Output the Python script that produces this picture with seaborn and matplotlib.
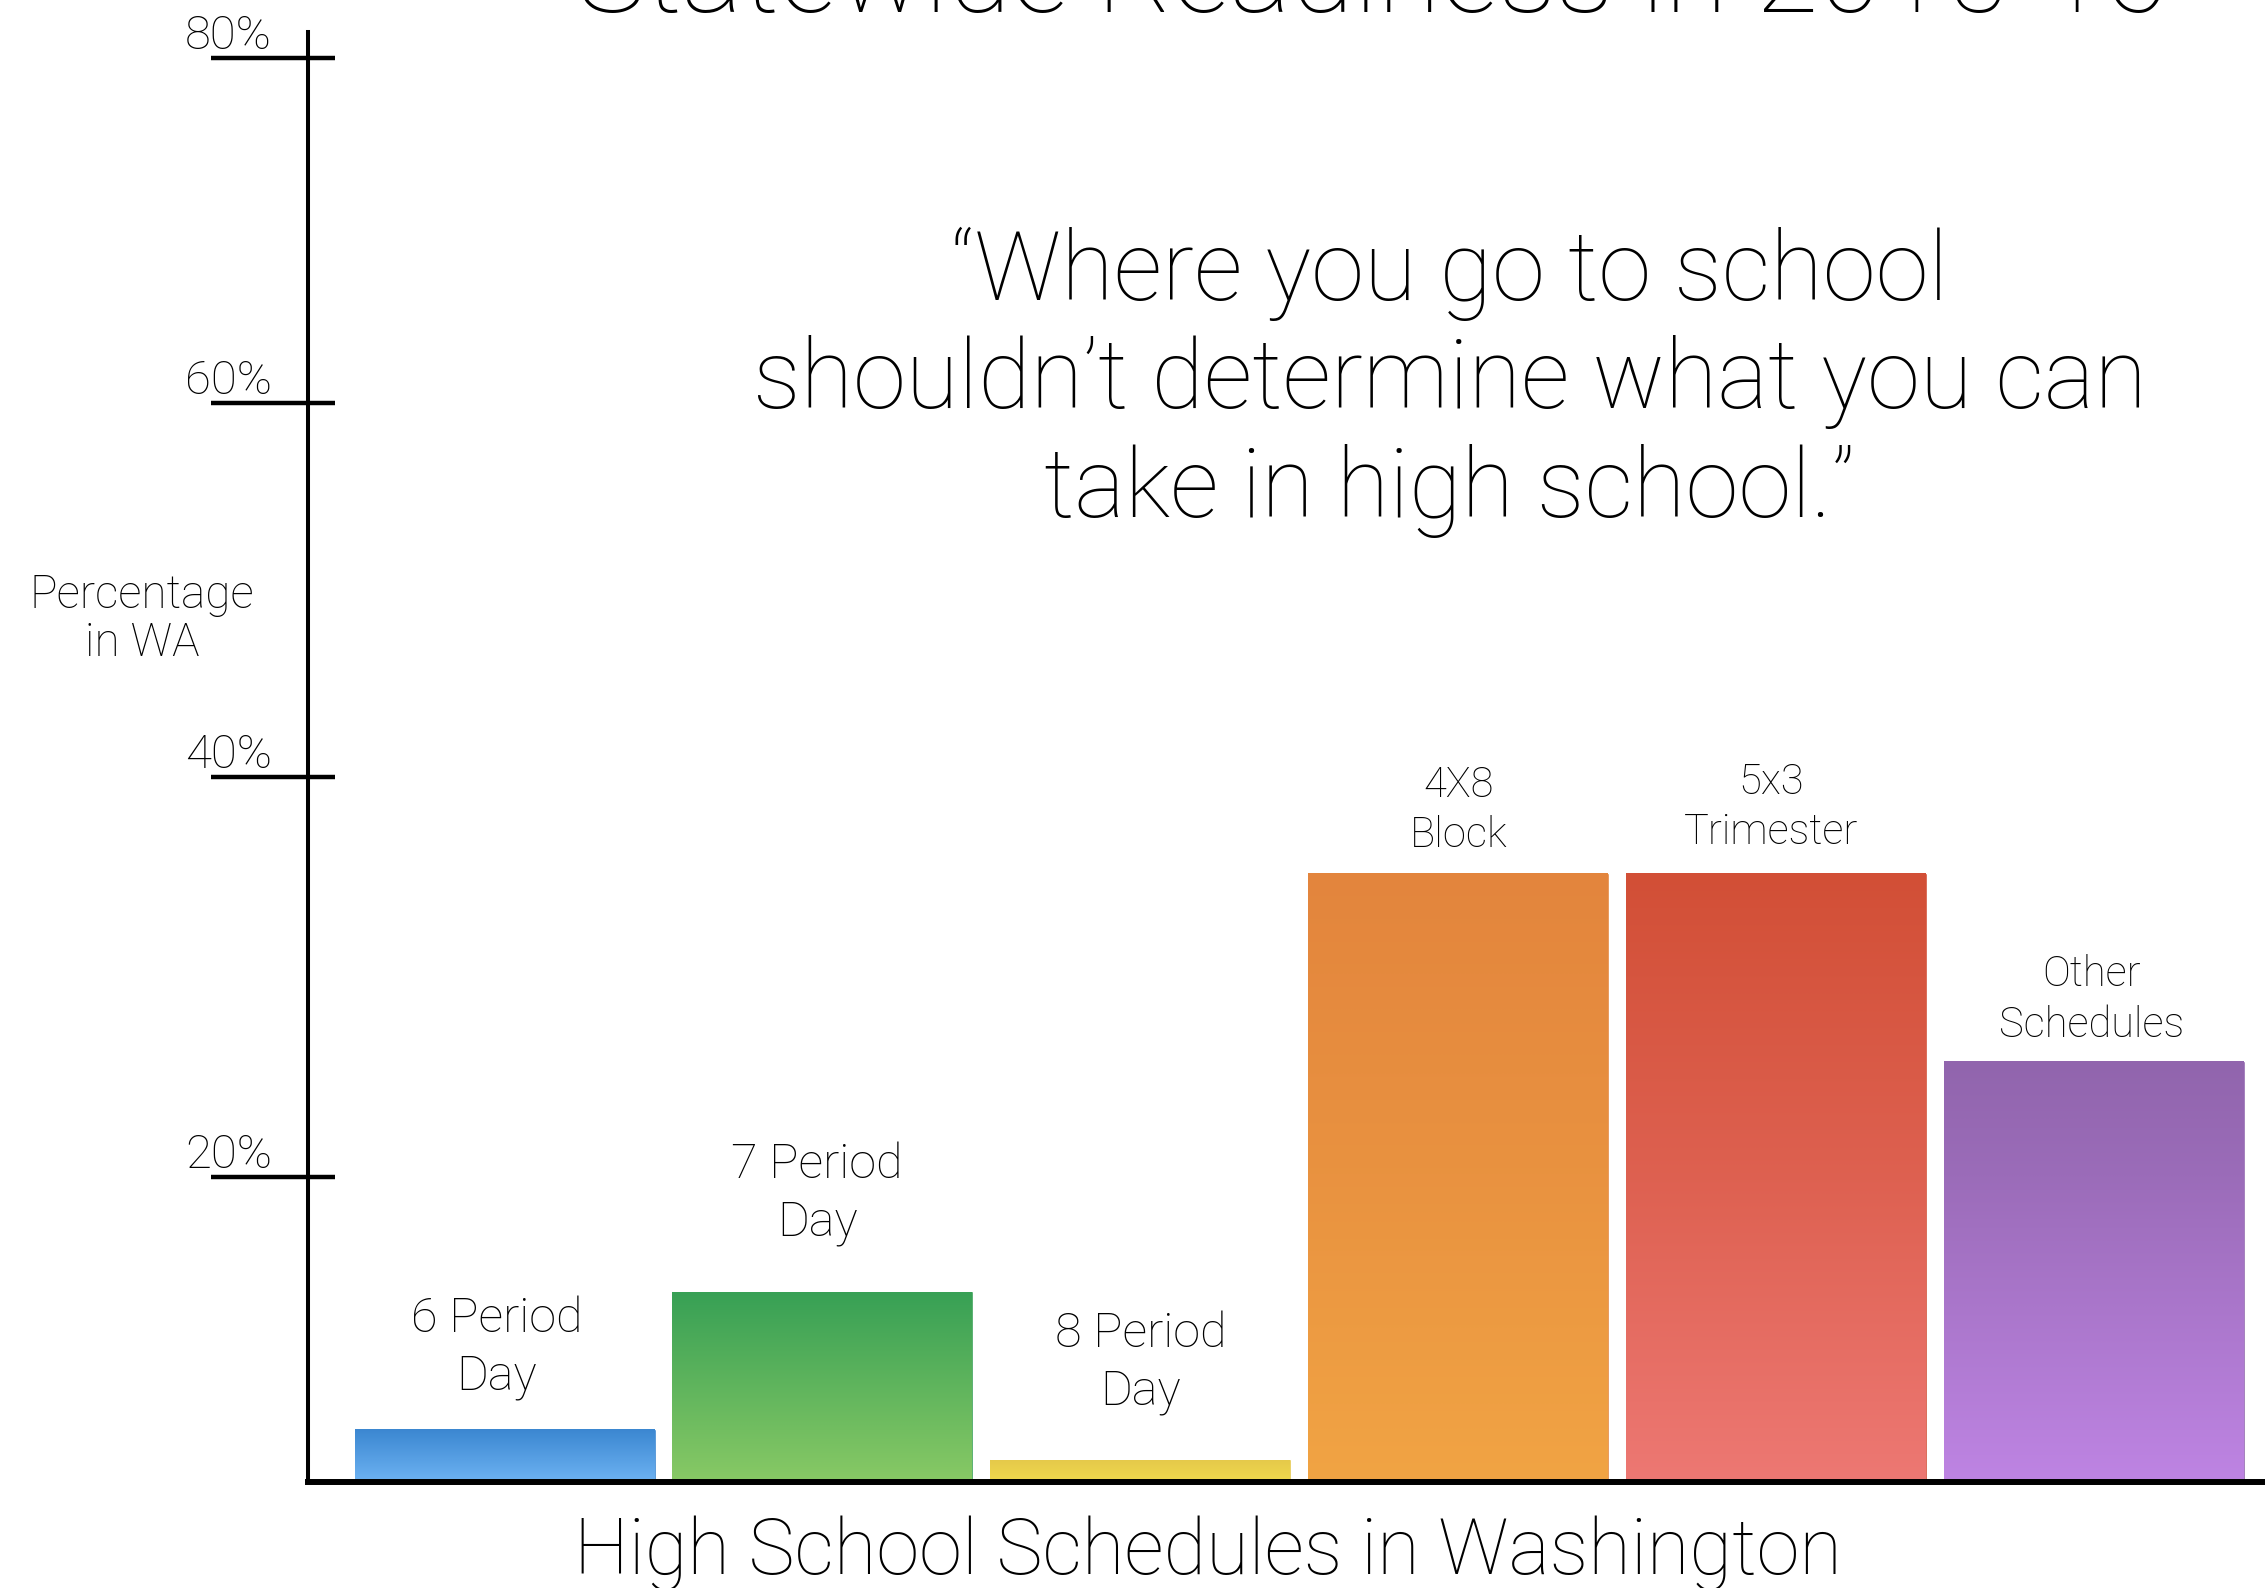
import numpy as np
import pandas as pd
import seaborn as sns
import matplotlib.pyplot as plt

# Data
schedules = ["6 Period\nDay", "7 Period\nDay", "8 Period\nDay",
             "4X8\nBlock", "5x3\nTrimester", "Other\nSchedules"]
share_pct = [3.5, 12.5, 1.5, 35.2, 35.2, 25.8]
tick_pct = [20, 40, 60, 80]

# the axis on the slide is hand drawn: where each tick sits (pixels above baseline)
knot_pct = [0, 20, 40, 60, 80, 100]
knot_px = [0, 305, 705, 1079, 1424, 1769]

top_colors = ["#3a86d0", "#37a055", "#e5c84a", "#e3853d", "#d24f36", "#9165ad"]
bottom_colors = ["#6db2f2", "#88c965", "#f0da4e", "#f1a444", "#ed7873", "#be84e3"]
label_offsets = [58, 70, 69, 45, 47, 44]
label_dx = [-6, -4, 0, 0, -4, -2]
label_sizes = [35, 35, 35, 30, 30, 30]

df = pd.DataFrame({"schedule": schedules, "share": share_pct})

sns.set_theme(style="white")
plt.rcParams["font.family"] = ["Roboto", "DejaVu Sans"]
plt.rcParams["font.weight"] = "light"
plt.rcParams["axes.labelweight"] = "light"
plt.rcParams["text.color"] = "black"
plt.rcParams["axes.labelcolor"] = "black"

fig = plt.figure(figsize=(22.65, 15.88), dpi=100)
ax = fig.add_axes([0.1360, 0.0668, 0.8640, 0.9131])


def fwd(v):
    return np.interp(v, knot_pct, knot_px)


def inv(p):
    return np.interp(p, knot_px, knot_pct)


ax.set_yscale("function", functions=(fwd, inv))

sns.barplot(data=df, x="schedule", y="share", hue="schedule", palette=top_colors,
            width=0.947, legend=False, ax=ax, saturation=1)

# vertical gradient on each bar
grad = np.linspace(0, 1, 256).reshape(-1, 1)
for i, patch in enumerate(ax.patches):
    x0, y0 = patch.get_x(), patch.get_y()
    w, h = patch.get_width(), patch.get_height()
    cmap = sns.blend_palette([top_colors[i], bottom_colors[i]], as_cmap=True)
    ax.imshow(grad, cmap=cmap, aspect="auto", interpolation="bilinear",
              extent=[x0, x0 + w, y0, y0 + h], origin="upper", zorder=3)
    ax.annotate(schedules[i], xy=(x0 + w / 2, y0 + h),
                xytext=(label_dx[i], label_offsets[i]),
                textcoords="offset points", ha="center", va="center",
                multialignment="center", fontsize=label_sizes[i], linespacing=1.3)

ax.set_xlim(-0.62, 5.538)
ax.set_ylim(0, 81.5)

for s in ["top", "right"]:
    ax.spines[s].set_visible(False)
ax.spines["left"].set_linewidth(2.9)
ax.spines["bottom"].set_linewidth(4.3)
ax.spines["left"].set_color("black")
ax.spines["bottom"].set_color("black")
ax.spines["bottom"].set_zorder(5)

ax.set_xticks([])
ax.set_yticks([])
ax.hlines(tick_pct, -97 / 1957, 27 / 1957, transform=ax.get_yaxis_transform(),
          color="black", lw=3.2, clip_on=False)
for t in tick_pct:
    ax.text(-0.0629, t, f"{t}%", transform=ax.get_yaxis_transform(),
            ha="left", va="bottom", fontsize=34)

ax.set_xlabel("High School Schedules in Washington", fontsize=56)
ax.xaxis.set_label_coords(0.46, -0.049)
ax.xaxis.label.set_va("center")
ax.set_ylabel("Percentage\nin WA", fontsize=33, rotation=0, ha="center",
              va="center", multialignment="center", linespacing=1.12)
ax.yaxis.set_label_coords(-0.0848, 0.595)

fig.text(0.606, 1 - 12 / 1588, "Statewide Readiness in 2015-16", ha="center",
         va="baseline", fontsize=83)
fig.text(0.640, 1 - 382 / 1588,
         "\u201cWhere you go to school\nshouldn\u2019t determine what you can\ntake in high school.\u201d",
         ha="center", va="center", multialignment="center", fontsize=69, linespacing=1.2)

fig.savefig("out.png", dpi=100)
